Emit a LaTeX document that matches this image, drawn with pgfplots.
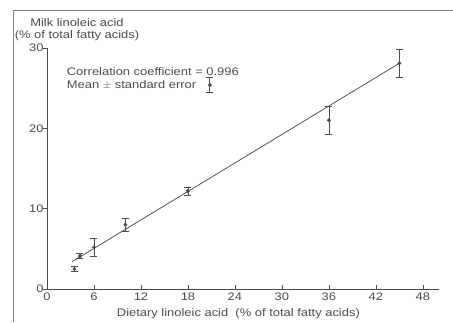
\documentclass[border=0pt]{standalone}
\usepackage{fontspec}
\setmainfont[FakeStretch=1.18]{Liberation Sans}
\usepackage{pgfplots}
\pgfplotsset{compat=1.18}
\definecolor{ink}{RGB}{75,75,75}
\begin{document}
\begin{tikzpicture}[x=1bp,y=1bp]
\useasboundingbox (-47,-33) rectangle (406,289);
\draw[ink!70, line width=0.8bp] (-34,-33) -- (-34,279) -- (406,279);
\begin{axis}[at={(0,0)}, anchor=origin, scale only axis,
  width=391.5bp, height=241bp,
  xmin=0, xmax=50, ymin=0, ymax=30,
  axis x line=bottom, axis y line=left,
  axis line style={-, ink, line width=0.7bp},
  xtick={0,6,...,48}, ytick={0,10,20,30},
  tick align=inside, major tick length=4bp,
  tick style={ink, line width=0.7bp},
  y tick style={xshift=-4bp},
  ticklabel style={font=\fontsize{11}{12}\selectfont, text=ink},
  /pgf/number format/assume math mode=true,
  clip=false]
\addplot[ink, line width=0.75bp] coordinates {(3.2,3.4) (45,28.1)};
\addplot[ink, only marks, mark=*, mark size=1.7bp,
  error bars/.cd, y dir=both, y explicit,
  error bar style={ink, line width=0.75bp},
  error mark options={ink, rotate=90, mark size=3.5bp, line width=0.75bp}]
  coordinates {
  (3.5,2.5) +- (0,0.3)
  (4.2,4.1) +- (0,0.3)
  (6,5.2) +- (0,1.1)
  (10,8.0) +- (0,0.8)
  (18,12.2) +- (0,0.5)
  (36,21.0) +- (0,1.7)
  (45,28.1) +- (0,1.7)
  (20.8,25.4) +- (0,0.95)
  };
\end{axis}
\begin{scope}[every node/.style={text=ink, font=\fontsize{11}{12.3}\selectfont, inner sep=0pt}]
\node[anchor=base] at (30,263) {Milk linoleic acid};
\node[anchor=base] at (30,250.7) {(\% of total fatty acids)};
\node[anchor=base west] at (19.7,214) {Correlation coefficient = 0.996};
\node[anchor=base west] at (19.7,200.7) {Mean $\pm$ standard error};
\node[anchor=base] at (191.4,-27.7) {Dietary linoleic acid~~(\% of total fatty acids)};
\end{scope}
\end{tikzpicture}
\end{document}
